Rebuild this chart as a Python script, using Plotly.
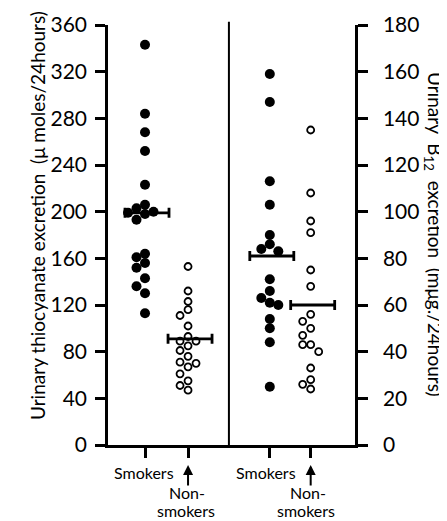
import numpy as np
import plotly.graph_objects as go

# ---------------- data ----------------
groups = ["Smokers", "Non-smokers"]
thio_smokers = [343, 284, 268, 252, 223, 206, 203, 200, 199, 198, 193,
                164, 161, 156, 152, 143, 136, 130, 113]
thio_nonsmokers = [153, 132, 123, 116, 111, 102, 93, 89, 89, 85, 81, 76,
                   71, 70, 67, 61, 55, 51, 47]
b12_smokers = [159, 147, 113, 103, 90, 86, 84, 83, 71, 66, 63, 61, 60,
               54, 50, 44, 25]
b12_nonsmokers = [135, 108, 96, 91, 75, 68, 56, 53, 50, 47, 43, 43, 40,
                  33, 28, 26, 24]
thio_means = [199, 91]
b12_means = [81, 60]
thio_ticks = [0, 40, 80, 120, 160, 200, 240, 280, 320, 360]
b12_ticks = [0, 20, 40, 60, 80, 100, 120, 140, 160, 180]

# ---------------- layout constants ----------------
OFF = 8                      # default page body margin of the browser
W, H = 447 - OFF, 521 - OFF
ML, MR, MT, MB = 108 - OFF, 92, 25 - OFF, 76
PW, PH = W - ML - MR, H - MT - MB
XR = [-0.86, 4.88]
COL_X = [0.0, 1.0, 2.9, 3.85]
DIVIDER_X = 1.95
PX_X = PW / (XR[1] - XR[0])
FONT = "Lato"


def paper(px, py):
    """window pixel -> paper coords"""
    return (px - OFF - ML) / PW, (MT + PH - (py - OFF)) / PH


def swarm(values, px_per_val, d=7.0, step=8.0):
    """simple beeswarm: horizontal pixel offsets avoiding overlap"""
    order = np.argsort(values)[::-1]
    placed, offs = [], np.zeros(len(values))
    cands = [0]
    for j in range(1, 6):
        cands += [-j, j]
    for i in order:
        y = values[i] * px_per_val
        for c in cands:
            x = c * step
            if all((x - a) ** 2 + (y - b) ** 2 >= d * d for a, b in placed):
                break
        placed.append((x, y))
        offs[i] = x
    return offs / PX_X


fig = go.Figure()
py_thio = PH / 360.0
py_b12 = PH / 180.0

series = [
    (thio_smokers, COL_X[0], "y", True, py_thio),
    (thio_nonsmokers, COL_X[1], "y", False, py_thio),
    (b12_smokers, COL_X[2], "y2", True, py_b12),
    (b12_nonsmokers, COL_X[3], "y2", False, py_b12),
]
for vals, cx, ya, filled, pv in series:
    vals = np.array(vals, dtype=float)
    d = 8.5 if filled else 7.5
    offs = swarm(vals, pv, d=d, step=8.5 if filled else 8.0)
    if filled:
        marker = dict(size=10, color="black", line=dict(width=0))
    else:
        marker = dict(size=7, color="white", line=dict(width=1.8, color="black"))
    fig.add_trace(go.Scatter(x=cx + offs, y=vals, mode="markers", marker=marker,
                             yaxis=ya, showlegend=False, hoverinfo="y"))

# mean bars
hw = 22 / PX_X
for means, cols, ya in [(thio_means, COL_X[:2], "y"), (b12_means, COL_X[2:], "y2")]:
    for m, cx in zip(means, cols):
        fig.add_trace(go.Scatter(
            x=[cx + 2 / PX_X], y=[m], mode="markers", yaxis=ya,
            marker=dict(size=1, color="rgba(0,0,0,0)"),
            error_x=dict(type="constant", value=hw, color="black",
                         thickness=2.8, width=5),
            showlegend=False, hoverinfo="skip"))

fig.add_shape(type="line", xref="x", yref="paper", x0=DIVIDER_X, x1=DIVIDER_X,
              y0=0, y1=1.008, line=dict(color="black", width=2))

axis_common = dict(showgrid=False, zeroline=False, showline=True, linecolor="black",
                   linewidth=2.5, ticks="outside", ticklen=10, tickwidth=2.5,
                   tickcolor="black",
                   tickfont=dict(family=FONT, size=21, color="black"))
fig.update_layout(
    width=W, height=H, margin=dict(l=ML, r=MR, t=MT, b=MB, autoexpand=False),
    paper_bgcolor="white", plot_bgcolor="white",
    xaxis=dict(range=XR, showgrid=False, zeroline=False, showline=True,
               linecolor="black", linewidth=2.5, ticks="outside", ticklen=10,
               tickwidth=2.5, tickcolor="black", tickvals=COL_X,
               showticklabels=False, fixedrange=True),
    yaxis=dict(range=[0, 360], tickvals=thio_ticks, ticklabelstandoff=4,
               **axis_common),
    yaxis2=dict(range=[0, 180], tickvals=b12_ticks, overlaying="y", side="right",
                ticklabelstandoff=11, **axis_common),
)

ann = []
tfont = dict(family=FONT, size=16, color="black")
for (px, py, txt) in [(144, 472, "Smokers"), (187, 492, "Non-"), (186, 511, "smokers"),
                      (266, 472, "Smokers"), (308, 492, "Non-"), (306, 511, "smokers")]:
    x, y = paper(px, py)
    ann.append(dict(x=x, y=y, xref="paper", yref="paper", text=txt, showarrow=False,
                    xanchor="center", yanchor="middle", font=tfont))
for cx in [COL_X[1], COL_X[3]]:
    _, y = paper(0, 465)
    ann.append(dict(x=cx, y=y, xref="x", yref="paper", text="", showarrow=True,
                    ax=0, ay=22, arrowhead=2, arrowsize=1, arrowwidth=2,
                    arrowcolor="black"))
x, y = paper(37, 216)
ann.append(dict(x=x, y=y, xref="paper", yref="paper", showarrow=False, textangle=-90,
                text="Urinary thiocyanate excretion  (\u03bc moles/24hours)",
                xanchor="center", yanchor="middle",
                font=dict(family=FONT, size=19, color="black")))
x, y = paper(434, 234)
ann.append(dict(x=x, y=y, xref="paper", yref="paper", showarrow=False, textangle=90,
                text="Urinary  B<sub>12</sub>  excretion  (m\u03bcg./24hours)",
                xanchor="center", yanchor="middle",
                font=dict(family=FONT, size=19, color="black")))
fig.update_layout(annotations=ann)

fig.write_html("out.html")
